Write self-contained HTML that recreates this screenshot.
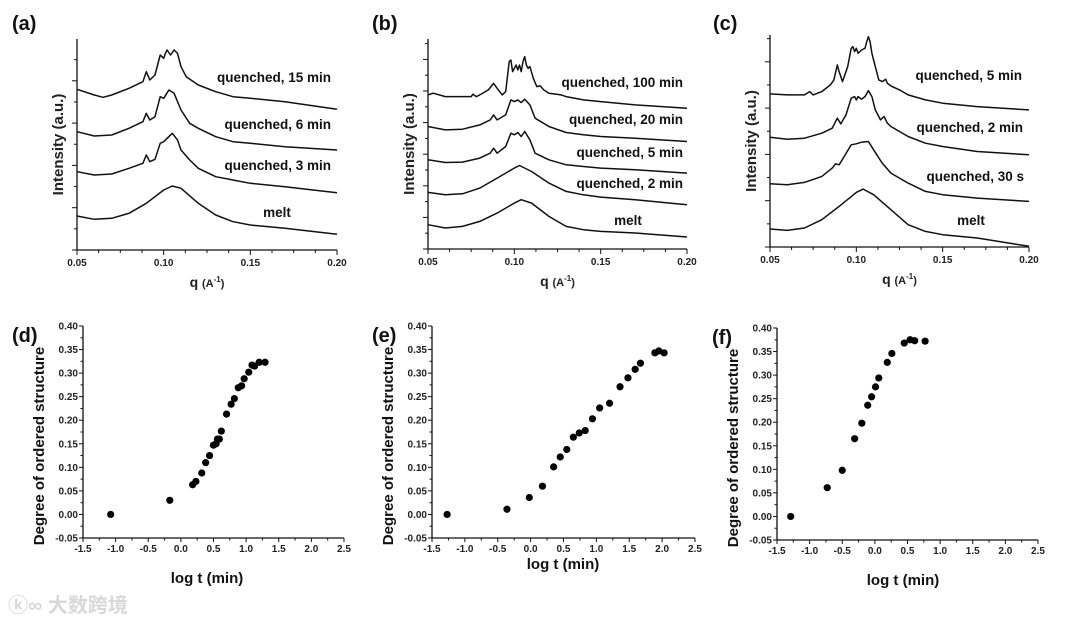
<!DOCTYPE html>
<html><head><meta charset="utf-8">
<style>
html,body{margin:0;padding:0;background:#fff;}
svg{display:block;font-family:"Liberation Sans",Arial,sans-serif;}
</style></head>
<body>
<svg id="fig" width="1080" height="624" viewBox="0 0 1080 624" xmlns="http://www.w3.org/2000/svg">
<text x="8" y="612" font-family="Liberation Sans, Noto Sans CJK SC, sans-serif" font-size="20" fill="#d8d8d8" font-weight="bold">ⓚ∞ 大数跨境</text>
</svg>
<script>
// ---- spectra data (q in A^-1, intensity in a.u.) ----
const aQ_melt=[.05,.06,.07,.08,.09,.10,.105,.11,.12,.13,.14,.15,.17,.20];
const aI_melt=[102,92,95,110,140,180,192,185,140,105,85,75,65,47];
const aQ_3=[.05,.06,.07,.08,.088,.09,.092,.095,.098,.10,.102,.105,.108,.11,.115,.12,.13,.14,.15,.17,.20];
const aI_3=[235,225,228,245,260,285,265,272,320,325,335,350,330,300,270,245,220,210,200,190,172];
const aQ_6=[.05,.06,.07,.08,.088,.09,.092,.095,.098,.10,.103,.106,.11,.115,.12,.13,.14,.15,.17,.20];
const aI_6=[355,342,345,365,385,410,390,400,460,455,480,470,420,380,365,340,325,320,310,300];
const aQ_15=[.05,.06,.065,.07,.08,.088,.09,.092,.095,.098,.10,.101,.102,.104,.106,.108,.11,.113,.12,.13,.14,.15,.17,.20];
const aI_15=[482,465,458,465,485,505,535,510,525,585,575,590,600,585,600,590,550,520,495,475,460,455,445,422];

const bQ_melt=[.05,.06,.07,.08,.09,.10,.104,.11,.12,.13,.14,.15,.17,.20];
const bI_melt=[73,63,68,83,108,138,148,138,98,68,58,53,48,36];
const bQ_2=[.05,.06,.07,.08,.09,.10,.103,.11,.12,.13,.14,.15,.17,.20];
const bI_2=[170,163,166,183,213,243,251,233,198,173,163,156,148,133];
const bQ_5=[.05,.06,.07,.08,.086,.088,.09,.095,.098,.10,.102,.104,.106,.109,.112,.12,.13,.14,.15,.17,.20];
const bI_5=[268,260,261,273,288,303,288,308,348,343,350,338,353,328,288,268,253,248,243,238,228];
const bI_20=[368,358,360,373,388,403,388,403,448,443,448,440,450,433,393,368,350,343,338,333,323];
const bQ_100=[.05,.053,.06,.075,.076,.078,.08,.085,.088,.09,.093,.095,.097,.098,.099,.101,.102,.103,.104,.105,.106,.107,.108,.109,.111,.113,.115,.117,.12,.127,.13,.14,.15,.17,.20];
const bI_100=[463,468,458,458,465,458,463,478,498,483,463,473,563,568,533,553,538,553,533,563,578,553,543,548,513,488,490,478,468,463,458,448,443,433,423];

const cQ_melt=[.05,.06,.07,.08,.09,.10,.104,.11,.12,.13,.14,.15,.17,.20];
const cI_melt=[54,50,57,82,122,164,174,157,112,67,47,37,27,2];
const cQ_30=[.05,.06,.07,.08,.086,.088,.09,.093,.097,.10,.103,.107,.11,.115,.12,.13,.14,.15,.17,.20];
const cI_30=[190,187,194,212,237,250,247,272,307,310,315,317,292,252,222,192,167,157,147,137];
const cQ_2=[.05,.06,.07,.08,.086,.089,.091,.094,.097,.099,.100,.101,.103,.105,.107,.109,.111,.114,.116,.118,.12,.13,.14,.15,.17,.20];
const cI_2=[330,324,327,342,357,387,370,397,447,452,442,452,444,452,470,452,412,382,392,372,362,332,312,302,287,277];
const cQ_5=[.05,.06,.07,.073,.075,.08,.085,.087,.089,.09,.092,.095,.097,.098,.099,.100,.101,.103,.105,.106,.107,.108,.109,.111,.113,.115,.117,.118,.12,.125,.13,.14,.15,.17,.20];
const cI_5=[460,457,457,467,457,467,487,502,547,527,497,542,597,602,587,597,582,592,597,617,632,617,582,542,502,497,504,492,484,472,457,442,432,422,412];

// ---- kinetics data ----
const dX=[-1.076,-0.17,0.18,0.23,0.32,0.38,0.44,0.50,0.54,0.56,0.59,0.62,0.70,0.77,0.82,0.88,0.93,0.97,1.04,1.09,1.13,1.20,1.29];
const dY=[0.0,0.03,0.063,0.07,0.088,0.11,0.125,0.147,0.15,0.16,0.16,0.177,0.213,0.234,0.246,0.269,0.273,0.288,0.302,0.317,0.315,0.323,0.323];
const eX=[-1.27,-0.36,-0.02,0.18,0.35,0.45,0.55,0.65,0.74,0.83,0.94,1.05,1.20,1.36,1.48,1.59,1.67,1.89,1.95,2.03];
const eY=[0.0,0.011,0.036,0.06,0.101,0.122,0.138,0.164,0.173,0.178,0.203,0.226,0.236,0.271,0.29,0.308,0.321,0.343,0.347,0.343];
const fX=[-1.29,-0.73,-0.5,-0.31,-0.2,-0.11,-0.05,0.01,0.06,0.19,0.26,0.45,0.54,0.61,0.77];
const fY=[0.0,0.061,0.098,0.165,0.198,0.236,0.254,0.275,0.294,0.327,0.346,0.368,0.375,0.373,0.372];

const qTicks=["0.05","0.10","0.15","0.20"];
const tTicks=["-1.5","-1.0","-0.5","0.0","0.5","1.0","1.5","2.0","2.5"];
const dTicks=["-0.05","0.00","0.05","0.10","0.15","0.20","0.25","0.30","0.35","0.40"];

const NS="http://www.w3.org/2000/svg";
const svg=document.getElementById('fig');
function mk(tag,attrs,parent,txt){const e=document.createElementNS(NS,tag);for(const k in attrs)e.setAttribute(k,attrs[k]);if(txt!==undefined)e.textContent=txt;(parent||svg).appendChild(e);return e;}
function lin(d0,d1,r0,r1){return v=>r0+(v-d0)*(r1-r0)/(d1-d0);}

function specPanel(id,letter,lx,x0,x1,yb,yt,imax,curves,labels,majStep){
  const g=mk('g',{},svg);
  
  
  const X=lin(0.05,0.20,x0,x1), Y=lin(0,imax,yb,yt);
  const t=mk('text',{x:lx,y:30,'font-size':20,'font-weight':'bold',fill:'#111'},g,'('+letter+')');
  
  const ax=mk('path',{d:`M${x0},${yt} V${yb} H${x1}`,stroke:'#111','stroke-width':1.3,fill:'none'},g);
  
  for(let i=0;i<=12;i++){const v=0.05+i*0.0125;const x=X(v);const maj=i%4==0;
    mk('line',{x1:x,x2:x,y1:yb,y2:yb+(maj?5:3),stroke:'#111','stroke-width':1},g);}
  qTicks.forEach((s,i)=>{const tl=mk('text',{x:X(+s),y:yb+16,'font-size':10,'font-weight':'bold','text-anchor':'middle',fill:'#222'},g,s);
    });
  for(let y=yb;y>=yt-0.5;y-=majStep/2){const k=Math.round((yb-y)/(majStep/2));
    mk('line',{x1:x0,x2:x0-(k%2==0?5:3),y1:y,y2:y,stroke:'#111','stroke-width':1},g);}
  const xt=mk('text',{x:(x0+x1)/2,y:yb+37,'font-size':14,'font-weight':'bold','text-anchor':'middle',fill:'#222'},g);
  
  xt.innerHTML='q <tspan font-size="11">(A</tspan><tspan font-size="8" dy="-5">-1</tspan><tspan font-size="11" dy="5">)</tspan>';
  const yc=(yb+yt)/2, yx=x0-14;
  const yt2=mk('text',{x:yx,y:yc,'font-size':15,'font-weight':'bold','text-anchor':'middle',fill:'#222',transform:`rotate(-90 ${yx} ${yc})`},g,'Intensity (a.u.)');
  
  curves.forEach((c,i)=>{const d=c[0].map((q,j)=>(j?'L':'M')+X(q).toFixed(1)+','+Y(c[1][j]).toFixed(1)).join(' ');
    const p=mk('path',{d:d,stroke:'#111','stroke-width':1.5,fill:'none','stroke-linejoin':'round'},g);
    });
  labels.forEach(l=>{const tl=mk('text',{x:l[1],y:l[2],'font-size':13.5,'font-weight':'bold','text-anchor':l[3]||'end',fill:'#111'},g,l[0]);
    });
}

function kinPanel(id,letter,lx,ly,x0,x1,yb,yt,xs,ys,titleY,titleX){
  const g=mk('g',{},svg);
  
  
  const X=lin(-1.5,2.5,x0,x1), Y=lin(-0.05,0.40,yb,yt);
  const t=mk('text',{x:lx,y:ly,'font-size':20,'font-weight':'bold',fill:'#111'},g,'('+letter+')');
  
  const ax=mk('path',{d:`M${x0},${yt} V${yb} H${x1}`,stroke:'#111','stroke-width':1.3,fill:'none'},g);
  
  for(let i=0;i<=16;i++){const x=X(-1.5+i*0.25);mk('line',{x1:x,x2:x,y1:yb,y2:yb+(i%2==0?4:2.5),stroke:'#111','stroke-width':1},g);}
  tTicks.forEach(s=>{const tl=mk('text',{x:X(+s),y:yb+14,'font-size':10,'font-weight':'bold','text-anchor':'middle',fill:'#222'},g,s);
    });
  for(let i=0;i<=18;i++){const y=Y(-0.05+i*0.025);mk('line',{x1:x0,x2:x0-(i%2==0?4:2.5),y1:y,y2:y,stroke:'#111','stroke-width':1},g);}
  dTicks.forEach(s=>{const tl=mk('text',{x:x0-5,y:Y(+s)+3.5,'font-size':10,'font-weight':'bold','text-anchor':'end',fill:'#222'},g,s);
    });
  const xt=mk('text',{x:titleX,y:titleY,'font-size':15,'font-weight':'bold','text-anchor':'middle',fill:'#111'},g,'log t (min)');
  
  const yc=yb-92, yx=x0-39;
  const yt2=mk('text',{x:yx,y:yc,'font-size':15,'font-weight':'bold','text-anchor':'middle',fill:'#111',transform:`rotate(-90 ${yx} ${yc})`},g,'Degree of ordered structure');
  
  xs.forEach((v,i)=>{const c=mk('circle',{cx:X(v),cy:Y(ys[i]),r:3.6,fill:'#000'},g);
    });
}

specPanel('a','a',12,77,337,250,39,633,
 [[aQ_melt,aI_melt,'melt'],[aQ_3,aI_3,'3min'],[aQ_6,aI_6,'6min'],[aQ_15,aI_15,'15min']],
 [['quenched, 15 min',331,82],['quenched, 6 min',331,129],['quenched, 3 min',331,170],['melt',277,217,'middle']],42.3);
specPanel('b','b',372,428,687,249,39,631,
 [[bQ_melt,bI_melt,'melt'],[bQ_2,bI_2,'2min'],[bQ_5,bI_5,'5min'],[bQ_5,bI_20,'20min'],[bQ_100,bI_100,'100min']],
 [['quenched, 100 min',683,87],['quenched, 20 min',683,124],['quenched, 5 min',683,157],['quenched, 2 min',683,188],['melt',628,225,'middle']],31.6);
specPanel('c','c',713,770,1029,247,35,637,
 [[cQ_melt,cI_melt,'melt'],[cQ_30,cI_30,'30s'],[cQ_2,cI_2,'2min'],[cQ_5,cI_5,'5min']],
 [['quenched, 5 min',1022,80],['quenched, 2 min',1023,132],['quenched, 30 s',1024,181],['melt',971,225,'middle']],46.3);

kinPanel('d','d',12,342,83,344,538,326,dX,dY,583,207);
kinPanel('e','e',372,342,432,695,538,326,eX,eY,569,563);
kinPanel('f','f',712,344,777,1038,540,328,fX,fY,585,903);
</script>
</body></html>
